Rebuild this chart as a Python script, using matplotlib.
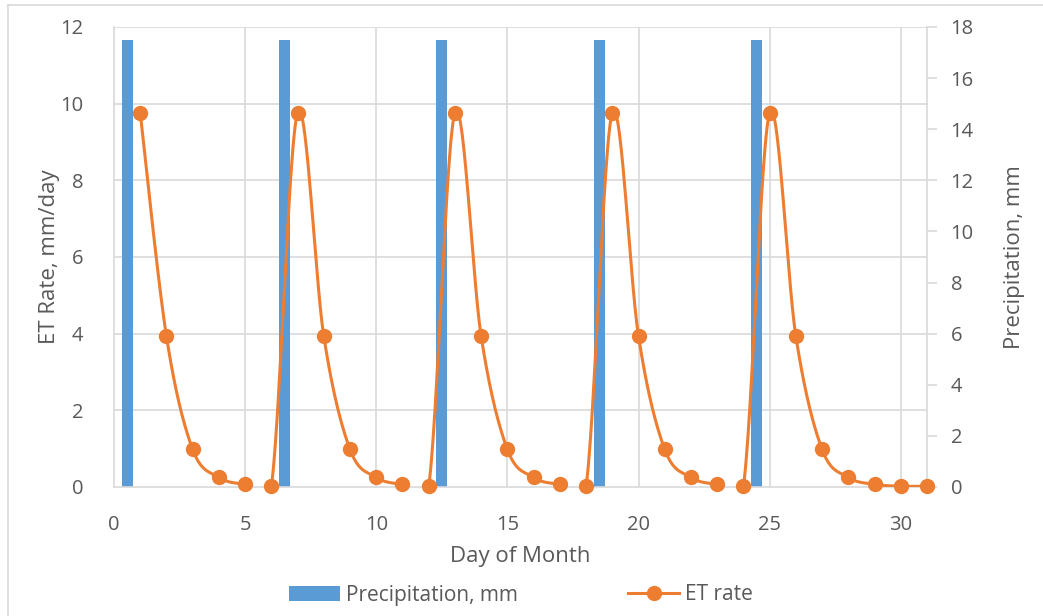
import numpy as np
import matplotlib
matplotlib.use("Agg")
import matplotlib.pyplot as plt
from matplotlib.lines import Line2D
from matplotlib.patches import Patch

# ---- data ----
days = list(range(1, 32))
et_rate = [9.76, 3.93, 0.98, 0.25, 0.07, 0.02,
           9.76, 3.93, 0.98, 0.25, 0.07, 0.02,
           9.76, 3.93, 0.98, 0.25, 0.07, 0.02,
           9.76, 3.93, 0.98, 0.25, 0.07, 0.02,
           9.76, 3.93, 0.98, 0.25, 0.07, 0.02, 0.02]
precip_days = [0.5, 6.5, 12.5, 18.5, 24.5]
precip_mm = [17.5, 17.5, 17.5, 17.5, 17.5]
xticks = [0, 5, 10, 15, 20, 25, 30]
left_ticks = [0, 2, 4, 6, 8, 10, 12]
right_ticks = [0, 2, 4, 6, 8, 10, 12, 14, 16, 18]

GRAY = "#595959"
GRID = "#d9d9d9"
BLUE = "#5b9bd5"
ORANGE = "#ed7d31"
FS_TICK = 14.5
FS_LAB = 16

plt.rcParams['font.family'] = ['Open Sans', 'DejaVu Sans']


def excel_smooth(x, y, n=30):
    x = np.asarray(x, float)
    y = np.asarray(y, float)
    xs, ys = [], []
    for i in range(len(x) - 1):
        p0 = np.array([x[max(i - 1, 0)], y[max(i - 1, 0)]])
        p1 = np.array([x[i], y[i]])
        p2 = np.array([x[i + 1], y[i + 1]])
        p3 = np.array([x[min(i + 2, len(x) - 1)], y[min(i + 2, len(x) - 1)]])
        c1 = p1 + (p2 - p0) / 6.0
        c2 = p2 - (p3 - p1) / 6.0
        t = np.linspace(0, 1, n)[:, None]
        pts = ((1 - t) ** 3) * p1 + 3 * ((1 - t) ** 2) * t * c1 + 3 * (1 - t) * t ** 2 * c2 + t ** 3 * p2
        xs.extend(pts[:, 0])
        ys.extend(pts[:, 1])
    return np.array(xs), np.array(ys)


fig = plt.figure(figsize=(10.43, 6.16), dpi=100)
L, R = 114 / 1043, 927 / 1043
B, T = (616 - 487) / 616, (616 - 27) / 616
ax = fig.add_axes([L, B, R - L, T - B])
ax2 = ax.twinx()

# bars on secondary axis
ax2.bar(precip_days, precip_mm, width=0.42, color=BLUE, zorder=2)
ax2.set_ylim(0, 18)
ax2.set_yticks(right_ticks)

# ET line on primary axis; draw above bars
ax.set_zorder(ax2.get_zorder() + 1)
ax.patch.set_visible(False)
sx, sy = excel_smooth(days, et_rate)
ax.plot(sx, sy, color=ORANGE, lw=2.2, zorder=3, solid_capstyle='round')
ax.plot(days, et_rate, 'o', color=ORANGE, ms=10, zorder=4, clip_on=False)

ax.set_xlim(0, 31)
ax.set_ylim(0, 12)
ax.set_xticks(xticks)
ax.set_yticks(left_ticks)
ax.grid(False)
for v in xticks[1:]:
    ax2.axvline(v, color=GRID, lw=1.2, zorder=0)
for v in left_ticks[1:]:
    ax2.axhline(v * 1.5, color=GRID, lw=1.2, zorder=0)

for a in (ax, ax2):
    for s in a.spines.values():
        s.set_visible(False)
for s in ('left', 'bottom'):
    ax.spines[s].set_visible(True)
    ax.spines[s].set_color(GRID)
    ax.spines[s].set_linewidth(1.2)
ax2.spines['right'].set_visible(True)
ax2.spines['right'].set_color(GRID)
ax2.spines['right'].set_linewidth(1.2)

ax.tick_params(axis='x', length=0, labelsize=FS_TICK, labelcolor=GRAY, pad=20)
ax.tick_params(axis='y', length=0, labelsize=FS_TICK, labelcolor=GRAY, pad=22)
ax2.tick_params(axis='y', length=7, width=1.2, color=GRID, labelsize=FS_TICK,
                labelcolor=GRAY, pad=10)

ax.set_xlabel("Day of Month", fontsize=FS_LAB, color=GRAY, labelpad=8)
ax.set_ylabel("ET Rate, mm/day", fontsize=FS_LAB, color=GRAY, labelpad=0)
ax2.set_ylabel("Precipitation, mm", fontsize=FS_LAB, color=GRAY, labelpad=22)

handles = [Patch(facecolor=BLUE, edgecolor='none'),
           Line2D([0], [0], color=ORANGE, lw=2.2, marker='o', ms=10)]
fig.legend(handles, ["Precipitation, mm", "ET rate"], loc='center',
           bbox_to_anchor=(521 / 1043, (616 - 595) / 616), ncol=2, frameon=False,
           fontsize=15, labelcolor=GRAY, columnspacing=5.3, handlelength=2.45,
           handletextpad=0.3)

# chart border (left and top visible)
fig.add_artist(Line2D([8 / 1043, 8 / 1043], [0, 1 - 5 / 616], color=GRID, lw=1.2,
                      transform=fig.transFigure))
fig.add_artist(Line2D([8 / 1043, 1], [1 - 5 / 616, 1 - 5 / 616], color=GRID, lw=1.2,
                      transform=fig.transFigure))

fig.savefig("out.png", dpi=100, facecolor='white')
